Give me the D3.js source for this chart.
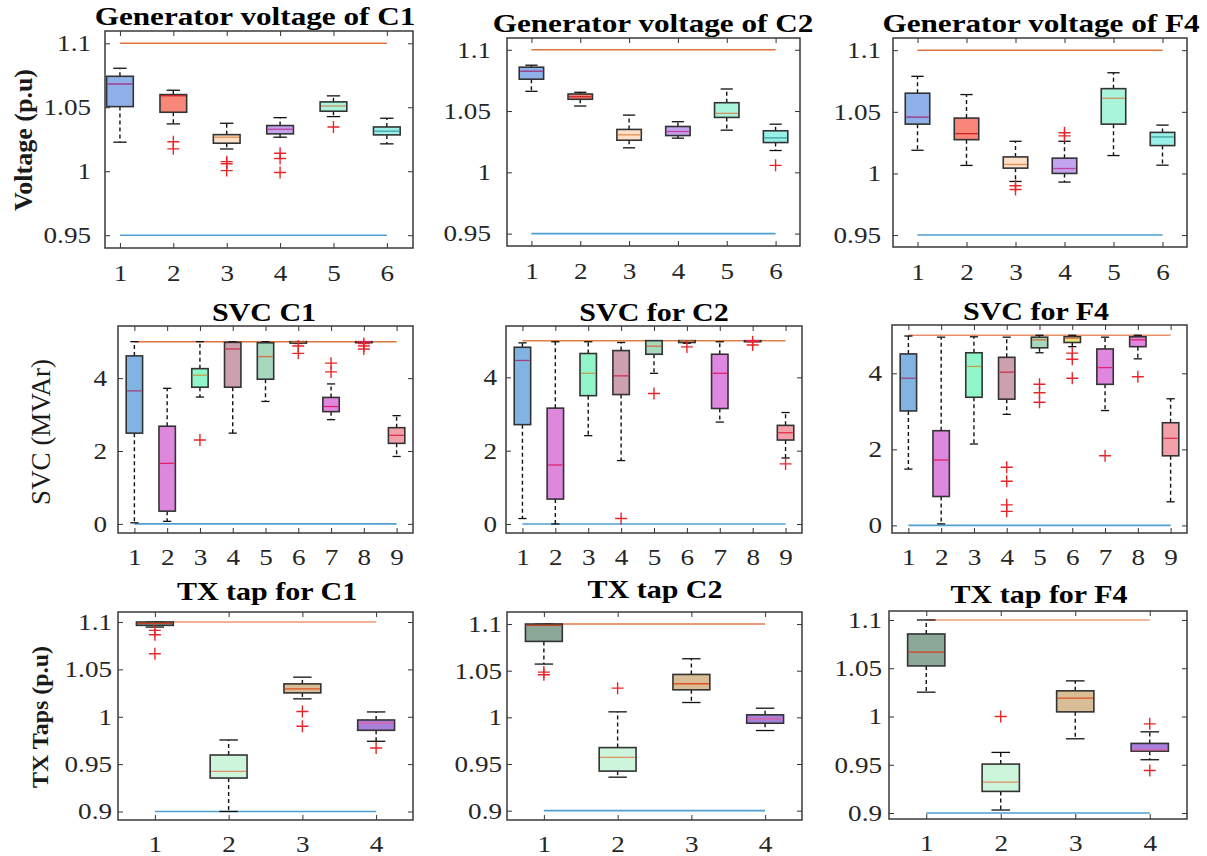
<!DOCTYPE html>
<html>
<head>
<meta charset="utf-8">
<script src="https://cdn.jsdelivr.net/npm/d3@7"></script>
<style>
body { margin: 0; background: #fff; }
svg { display: block; }
</style>
</head>
<body>
<div id="chart"></div>
<script>
// categories, ticks and limits
const genCats = [1, 2, 3, 4, 5, 6];
const svcCats = [1, 2, 3, 4, 5, 6, 7, 8, 9];
const txCats = [1, 2, 3, 4];
const voltTicks = [0.95, 1, 1.05, 1.1];
const svcTicks = [0, 2, 4];
const txTicks = [0.9, 0.95, 1, 1.05, 1.1];
const voltLimits = [0.95, 1.1];
const svcLimits = [0, 5];
const txLimits = [0.9, 1.1];

// box stats: [lower whisker, q1, median, q3, upper whisker]
const genC1 = [
  [1.0227, 1.0505, 1.0682, 1.0742, 1.0805],
  [1.037, 1.0461, 1.059, 1.0599, 1.0633],
  [1.0174, 1.0219, 1.0266, 1.0286, 1.0375],
  [1.0266, 1.0292, 1.0328, 1.0357, 1.0419],
  [1.0427, 1.0469, 1.051, 1.0542, 1.0589],
  [1.0214, 1.0284, 1.0313, 1.0346, 1.0414]
];
const genC1Out = [[], [1.023, 1.0175], [1.0075, 1.0058, 1.0005], [1.014, 1.0099, 0.999], [1.0346], []];

const genC2 = [
  [1.0661, 1.076, 1.0825, 1.0858, 1.0874],
  [1.0541, 1.0596, 1.0617, 1.0639, 1.0653],
  [1.02, 1.0262, 1.0306, 1.035, 1.0467],
  [1.0279, 1.03, 1.0333, 1.0374, 1.0413],
  [1.0344, 1.0448, 1.0481, 1.0568, 1.068],
  [1.0178, 1.0243, 1.0281, 1.0339, 1.0393]
];
const genC2Out = [[], [], [], [], [], [1.0057]];

const genF4 = [
  [1.0188, 1.04, 1.0457, 1.0651, 1.0788],
  [1.0065, 1.0274, 1.0323, 1.0449, 1.064],
  [0.9935, 1.0043, 1.0073, 1.0134, 1.0261],
  [0.993, 1.0, 1.004, 1.0124, 1.0261],
  [1.0145, 1.04, 1.061, 1.0688, 1.0817],
  [1.0067, 1.0226, 1.0296, 1.0333, 1.0392]
];
const genF4Out = [[], [], [0.99, 0.987], [1.033, 1.0305], [], []];

const svcC1 = [
  [0.03, 2.49, 3.65, 4.61, 5.0],
  [0.07, 0.35, 1.66, 2.68, 3.72],
  [3.48, 3.75, 4.08, 4.26, 5.0],
  [2.49, 3.75, 4.8, 4.98, 5.0],
  [3.36, 3.97, 4.59, 4.97, 5.0],
  [4.95, 4.96, 4.99, 5.0, 5.0],
  [2.86, 3.08, 3.22, 3.47, 3.84],
  [5.0, 5.0, 5.0, 5.0, 5.0],
  [1.85, 2.21, 2.43, 2.64, 2.97]
];
const svcC1Out = [[], [], [2.3], [], [], [4.88, 4.68], [4.41, 4.17], [4.95, 4.88, 4.8], []];

const svcC2 = [
  [0.15, 2.71, 4.46, 4.82, 4.94],
  [0.0, 0.68, 1.61, 3.16, 4.97],
  [2.41, 3.5, 4.11, 4.65, 4.97],
  [1.73, 3.53, 4.04, 4.73, 4.95],
  [4.11, 4.63, 4.85, 5.0, 5.0],
  [4.93, 4.95, 4.99, 5.0, 5.0],
  [2.78, 3.15, 4.11, 4.63, 4.97],
  [5.0, 5.0, 5.0, 5.0, 5.0],
  [1.8, 2.29, 2.49, 2.69, 3.04]
];
const svcC2Out = [[], [], [], [0.15], [3.56], [4.83], [], [4.97, 4.88], [1.64]];

const svcF4 = [
  [1.48, 3.01, 3.87, 4.51, 4.98],
  [0.04, 0.76, 1.72, 2.49, 4.95],
  [2.14, 3.37, 4.18, 4.54, 4.96],
  [2.92, 3.32, 4.03, 4.42, 4.95],
  [4.54, 4.67, 4.88, 4.95, 5.0],
  [4.7, 4.81, 4.92, 4.96, 5.0],
  [3.02, 3.71, 4.15, 4.64, 4.95],
  [4.38, 4.7, 4.88, 4.96, 5.0],
  [0.62, 1.83, 2.29, 2.7, 3.33]
];
const svcF4Out = [[], [], [], [1.53, 1.16, 0.54, 0.37], [3.71, 3.49, 3.24], [4.53, 4.37, 3.87], [1.83], [3.91], []];

const txC1 = [
  [1.0947, 1.0965, 1.0986, 1.1, 1.1],
  [0.9, 0.9353, 0.9423, 0.9596, 0.9755],
  [1.0189, 1.0252, 1.0295, 1.0347, 1.0418],
  [0.9741, 0.9857, 0.9935, 0.9966, 1.0051]
];
const txC1Out = [[1.0912, 1.0866, 1.0665], [], [1.0055, 0.99], [0.967]];

const txC2 = [
  [1.0571, 1.0814, 1.0986, 1.1, 1.1],
  [0.9359, 0.9424, 0.9572, 0.9676, 1.0059],
  [1.0159, 1.0295, 1.036, 1.046, 1.0628],
  [0.9859, 0.9937, 0.9984, 1.0027, 1.0098]
];
const txC2Out = [[1.0485, 1.0456], [1.0313], [], []];

const txF4 = [
  [1.0252, 1.0524, 1.0666, 1.0855, 1.1],
  [0.9031, 0.9224, 0.9321, 0.9507, 0.9628],
  [0.9769, 1.0048, 1.019, 1.0266, 1.0369],
  [0.9552, 0.9641, 0.9655, 0.9721, 0.9841]
];
const txF4Out = [[], [1.0], [], [0.9924, 0.9441]];

// colours
const genFill = ["#8fb0e8", "#f8877a", "#fde0c8", "#c4a4f0", "#a8f5dc", "#98f0e8"];
const genMed = ["#a03080", "#d02020", "#e09050", "#c040a0", "#d09060", "#40a0a0"];
const svcFill = ["#80b4e2", "#dd88dd", "#90f5c8", "#cca0ae", "#a8d8bc", "#ece080", "#e088e0", "#e088e0", "#f4a0aa"];
const svcMed = ["#a04080", "#e0206a", "#c0a050", "#d03050", "#d07040", "#e08040", "#e02070", "#e02070", "#e03050"];
const txFill = ["#8ca898", "#cdf5dc", "#d9bd96", "#a880dc"];
const txMed = ["#d04020", "#e09060", "#e05020", "#e060a0"];

const serif = '"Liberation Serif","Times New Roman",serif';
const lowerColor = "#4f9fd0";

// layout of the nine axes
const panels = [
  {title: "Generator voltage of C1", tx: 255, ty: 25, tsize: 26, box: [105, 413, 31, 248], xdom: [0.72, 6.49], ydom: [0.94, 1.1096],
   cats: genCats, stats: genC1, out: genC1Out, ticks: voltTicks, lim: voltLimits, fill: genFill, med: genMed, pad: 14, xpad: 17, up: "#e0703c"},
  {title: "Generator voltage of C2", tx: 653, ty: 31.5, tsize: 26, box: [507, 800, 38, 246], xdom: [0.5, 6.5], ydom: [0.9399, 1.1096],
   cats: genCats, stats: genC2, out: genC2Out, ticks: voltTicks, lim: voltLimits, fill: genFill, med: genMed, pad: 16, xpad: 17, up: "#d8743c"},
  {title: "Generator voltage of F4", tx: 1041, ty: 31.5, tsize: 26, box: [893, 1187, 38, 247], xdom: [0.5, 6.5], ydom: [0.9403, 1.1099],
   cats: genCats, stats: genF4, out: genF4Out, ticks: voltTicks, lim: voltLimits, fill: genFill, med: genMed, pad: 12, xpad: 17, up: "#e0703c"},
  {title: "SVC C1", tx: 264, ty: 320.5, tsize: 25, box: [118, 413, 326, 533], xdom: [0.5, 9.5], ydom: [-0.25, 5.43],
   cats: svcCats, stats: svcC1, out: svcC1Out, ticks: svcTicks, lim: svcLimits, fill: svcFill, med: svcMed, pad: 11, xpad: 16, up: "#e0703c"},
  {title: "SVC for C2", tx: 654, ty: 320.5, tsize: 25, box: [506, 802, 326, 533], xdom: [0.5, 9.5], ydom: [-0.245, 5.40],
   cats: svcCats, stats: svcC2, out: svcC2Out, ticks: svcTicks, lim: svcLimits, fill: svcFill, med: svcMed, pad: 9, xpad: 16, up: "#e08048"},
  {title: "SVC for F4", tx: 1036, ty: 320, tsize: 25, box: [892, 1187, 325, 533], xdom: [0.5, 9.5], ydom: [-0.2, 5.27],
   cats: svcCats, stats: svcF4, out: svcF4Out, ticks: svcTicks, lim: svcLimits, fill: svcFill, med: svcMed, pad: 10, xpad: 16, up: "#e8906a"},
  {title: "TX tap for C1", tx: 267, ty: 600, tsize: 25, box: [118, 413, 612, 820], xdom: [0.5, 4.5], ydom: [0.891, 1.1106],
   cats: txCats, stats: txC1, out: txC1Out, ticks: txTicks, lim: txLimits, fill: txFill, med: txMed, pad: 6, xpad: 16, up: "#eb9670"},
  {title: "TX tap C2", tx: 655, ty: 598, tsize: 25, box: [507, 802, 612, 820], xdom: [0.5, 4.5], ydom: [0.89, 1.1129],
   cats: txCats, stats: txC2, out: txC2Out, ticks: txTicks, lim: txLimits, fill: txFill, med: txMed, pad: 5, xpad: 16, up: "#e07a48"},
  {title: "TX tap for F4", tx: 1039, ty: 603, tsize: 25, box: [889, 1187, 611, 819], xdom: [0.5, 4.5], ydom: [0.8938, 1.1093],
   cats: txCats, stats: txF4, out: txF4Out, ticks: txTicks, lim: txLimits, fill: txFill, med: txMed, pad: 7, xpad: 16, up: "#f0a07c"}
];

const svg = d3.select("#chart").append("svg")
  .attr("width", 1207)
  .attr("height", 856);

// widen text horizontally like the stretched original
const stretch = (sel, sx) => {
  sel.each(function() {
    const t = d3.select(this);
    const xv = +t.attr("x") || 0;
    t.attr("x", xv / sx).attr("transform", `scale(${sx},1)`);
  });
};

panels.forEach(p => {
  const [x0, x1, y0, y1] = p.box;
  const x = d3.scaleLinear().domain(p.xdom).range([x0, x1]);
  const y = d3.scaleLinear().domain(p.ydom).range([y1, y0]);
  const g = svg.append("g");
  const hw = x(1.25) - x(1);      // half box width
  const cw = hw / 2;              // half cap width
  const first = p.cats[0], last = p.cats[p.cats.length - 1];

  // limit lines
  g.append("line")
    .attr("x1", x(first)).attr("x2", x(last))
    .attr("y1", y(p.lim[1])).attr("y2", y(p.lim[1]))
    .attr("stroke", p.up).attr("stroke-width", 1.5);
  g.append("line")
    .attr("x1", x(first)).attr("x2", x(last))
    .attr("y1", y(p.lim[0])).attr("y2", y(p.lim[0]))
    .attr("stroke", lowerColor).attr("stroke-width", 1.6);

  const items = p.stats.map((s, i) => ({cat: p.cats[i], s: s, out: p.out[i], i: i}));
  const bx = g.selectAll("g.bx").data(items).join("g").attr("class", "bx");

  // whiskers
  bx.append("line")
    .attr("x1", d => x(d.cat)).attr("x2", d => x(d.cat))
    .attr("y1", d => y(d.s[3])).attr("y2", d => y(d.s[4]))
    .attr("stroke", "#111").attr("stroke-width", 1.4).attr("stroke-dasharray", "4,3");
  bx.append("line")
    .attr("x1", d => x(d.cat)).attr("x2", d => x(d.cat))
    .attr("y1", d => y(d.s[1])).attr("y2", d => y(d.s[0]))
    .attr("stroke", "#111").attr("stroke-width", 1.4).attr("stroke-dasharray", "4,3");
  [0, 4].forEach(k => {
    bx.append("line")
      .attr("x1", d => x(d.cat) - cw).attr("x2", d => x(d.cat) + cw)
      .attr("y1", d => y(d.s[k])).attr("y2", d => y(d.s[k]))
      .attr("stroke", "#111").attr("stroke-width", 1.3);
  });

  // boxes
  bx.append("rect")
    .attr("x", d => x(d.cat) - hw)
    .attr("y", d => y(d.s[3]))
    .attr("width", 2 * hw)
    .attr("height", d => Math.max(1, y(d.s[1]) - y(d.s[3])))
    .attr("fill", d => p.fill[d.i])
    .attr("stroke", "#333")
    .attr("stroke-width", 1.6);

  // medians
  bx.append("line")
    .attr("x1", d => x(d.cat) - hw + 1).attr("x2", d => x(d.cat) + hw - 1)
    .attr("y1", d => y(d.s[2])).attr("y2", d => y(d.s[2]))
    .attr("stroke", d => p.med[d.i]).attr("stroke-width", 1.3);

  // outliers
  bx.selectAll("path.out")
    .data(d => d.out.map(v => ({cat: d.cat, v: v})))
    .join("path")
    .attr("class", "out")
    .attr("d", o => {
      const cx = x(o.cat), cy = y(o.v), r = 6;
      return `M${cx - r},${cy}H${cx + r}M${cx},${cy - r}V${cy + r}`;
    })
    .attr("stroke", "#e8262a")
    .attr("stroke-width", 1.4)
    .attr("fill", "none");

  // axes with inward ticks on all four sides
  const left = g.append("g").attr("transform", `translate(${x0},0)`)
    .call(d3.axisLeft(y).tickValues(p.ticks).tickSizeInner(-5).tickSizeOuter(0)
      .tickPadding(p.pad).tickFormat(d => String(d)));
  const right = g.append("g").attr("transform", `translate(${x1},0)`)
    .call(d3.axisRight(y).tickValues(p.ticks).tickSizeInner(-5).tickSizeOuter(0).tickFormat(""));
  const bottom = g.append("g").attr("transform", `translate(0,${y1})`)
    .call(d3.axisBottom(x).tickValues(p.cats).tickSizeInner(-5).tickSizeOuter(0)
      .tickPadding(p.xpad).tickFormat(d3.format("d")));
  const top = g.append("g").attr("transform", `translate(0,${y0})`)
    .call(d3.axisTop(x).tickValues(p.cats).tickSizeInner(-5).tickSizeOuter(0).tickFormat(""));

  [left, right, bottom, top].forEach(a => {
    a.select(".domain").remove();
    a.selectAll(".tick line").attr("stroke", "#333").attr("stroke-width", 1);
    a.selectAll("text")
      .attr("fill", "#262626")
      .style("font-family", serif)
      .style("font-size", "23px");
  });
  stretch(left.selectAll("text"), 1.18);
  stretch(bottom.selectAll("text"), 1.18);

  // frame
  g.append("rect")
    .attr("x", x0).attr("y", y0)
    .attr("width", x1 - x0).attr("height", y1 - y0)
    .attr("fill", "none")
    .attr("stroke", "#3a3a3a")
    .attr("stroke-width", 1.5);

  // title
  g.append("text")
    .attr("transform", `translate(${p.tx},${p.ty}) scale(1.2,1)`)
    .attr("text-anchor", "middle")
    .style("font-family", serif)
    .style("font-weight", "bold")
    .style("font-size", p.tsize + "px")
    .attr("fill", "#000")
    .text(p.title);
});

// y axis titles
const yTitles = [
  {text: "Voltage (p.u)", x: 23, y: 140, size: 26, weight: "bold"},
  {text: "SVC (MVAr)", x: 41, y: 432, size: 27, weight: "normal"},
  {text: "TX Taps (p.u)", x: 40, y: 717, size: 24, weight: "bold"}
];
svg.selectAll("text.ylab")
  .data(yTitles)
  .join("text")
  .attr("class", "ylab")
  .attr("transform", d => `translate(${d.x},${d.y}) rotate(-90)`)
  .attr("text-anchor", "middle")
  .attr("dy", "0.35em")
  .style("font-family", serif)
  .style("font-weight", d => d.weight)
  .style("font-size", d => d.size + "px")
  .attr("fill", "#1a1a1a")
  .text(d => d.text);
</script>
</body>
</html>
